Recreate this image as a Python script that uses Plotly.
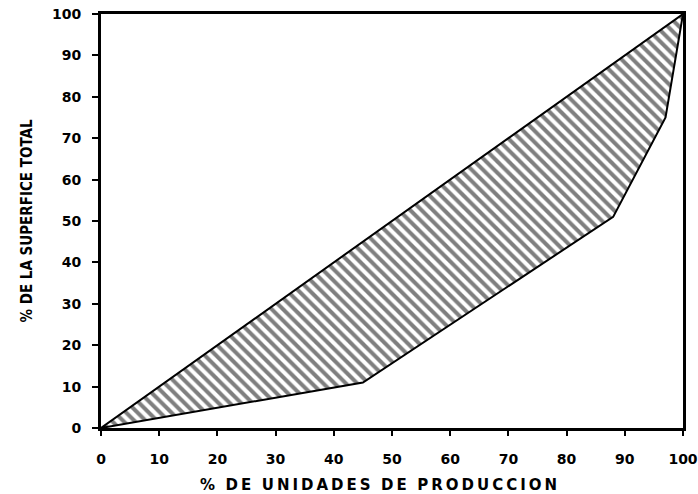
import plotly.graph_objects as go

# Lorenz curve: % of production units (x) vs % of total surface (y)
pct_unidades = [0, 45, 88, 97, 100]
pct_superficie = [0, 11, 51, 75, 100]
equality_x = [0, 100]
equality_y = [0, 100]
tick_vals = [0, 10, 20, 30, 40, 50, 60, 70, 80, 90, 100]
tick_text = ["0", "10", "20", "30", "40", "50", "60", "70", "80", "90", "100"]
x_title = "% DE UNIDADES DE PRODUCCION"
y_title = "% DE LA SUPERFICE TOTAL"

# hatched area between the equality line and the curve
poly_x = equality_x + pct_unidades[::-1]
poly_y = equality_y + pct_superficie[::-1]


def spaced(s):
    # letter-spaced look: thin space between letters, wider gap between words
    words = s.split(" ")
    return "\u2002\u2009".join("\u2009".join(list(w)) for w in words)


fig = go.Figure()
fig.add_trace(go.Scatter(
    x=poly_x, y=poly_y, mode="lines", fill="toself",
    fillcolor="white",
    fillpattern=dict(shape="\\", fgcolor="black", bgcolor="white", size=8, solidity=0.5),
    line=dict(color="black", width=2), hoverinfo="skip", showlegend=False))

fig.update_layout(
    width=698, height=494,
    margin=dict(l=101, r=15, t=14, b=66),
    paper_bgcolor="white", plot_bgcolor="white",
    font=dict(family="DejaVu Sans", color="black"),
    xaxis=dict(range=[0, 100], tickvals=tick_vals, ticktext=tick_text,
               showgrid=False, zeroline=False, showline=True, linecolor="black",
               linewidth=3, mirror=True, ticks="outside", ticklen=5, tickwidth=2,
               tickcolor="black", automargin=False, ticklabelstandoff=11,
               tickfont=dict(family="DejaVu Sans", size=14, weight="bold")),
    yaxis=dict(range=[0, 100], tickvals=tick_vals, ticktext=tick_text,
               showgrid=False, zeroline=False, showline=True, linecolor="black",
               linewidth=3, mirror=True, ticks="outside", ticklen=6, tickwidth=2,
               tickcolor="black", automargin=False, ticklabelstandoff=8,
               tickfont=dict(family="DejaVu Sans", size=14, weight="bold"),
               title=dict(text=y_title,
                          font=dict(family="DejaVu Sans Condensed", size=15, weight="bold"),
                          standoff=16)),
    annotations=[dict(text=spaced(x_title), xref="paper", yref="paper",
                      x=0.476, y=0, xanchor="center", yanchor="middle", yshift=-57,
                      showarrow=False,
                      font=dict(family="DejaVu Sans", size=15, weight="bold", color="black"))],
)

fig.write_html(
    "out.html",
    config={"displayModeBar": False},
    post_script="document.body.style.margin='0';document.body.style.overflow='hidden';",
)
